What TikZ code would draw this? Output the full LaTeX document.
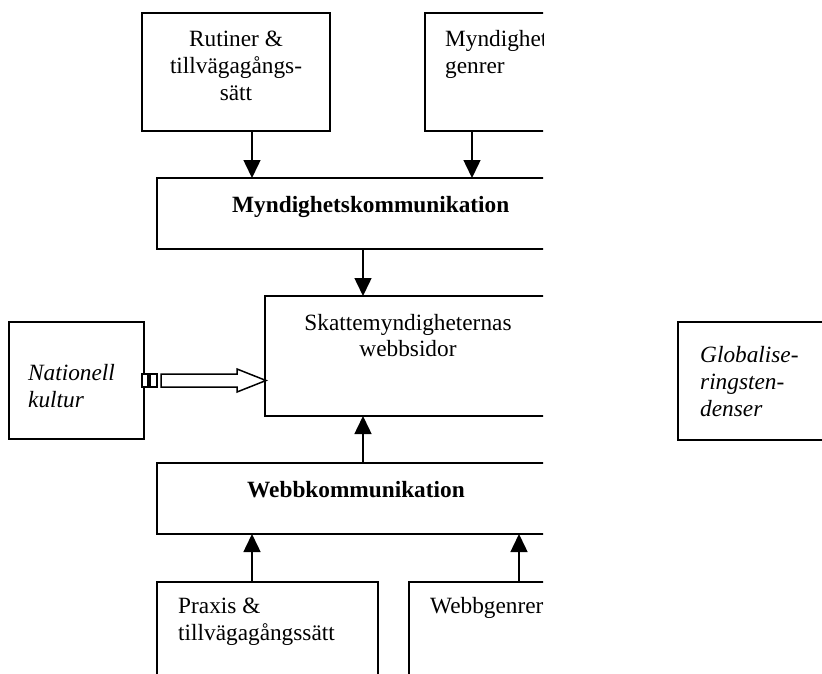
\documentclass[tikz,border=0pt]{standalone}
\usepackage{fontspec}
\setmainfont{Liberation Serif}
\usetikzlibrary{arrows.meta}
\tikzset{
  box/.style={draw, line width=1.5pt, rectangle, inner sep=0pt, outer sep=0pt, anchor=north west},
  txt/.style={inner sep=0pt, font=\fontsize{23.3}{27}\selectfont},
  txtc/.style={txt, anchor=base},
  txtl/.style={txt, anchor=base west},
  arr/.style={line width=1.5pt, -{Triangle[length=18pt,width=17pt]}},
  hollow/.style={draw, line width=1.5pt, fill=white}
}
\begin{document}
\begin{tikzpicture}[x=1pt,y=-1pt]
\clip (0,0) rectangle (822,673);
\useasboundingbox (0,0) rectangle (822,673);
\begin{scope}
\clip (0,0) rectangle (543,673);
% boxes
\node[box, minimum width=188pt, minimum height=118pt] (rut) at (142,13) {};
\node[box, minimum width=200pt, minimum height=118pt] (myn) at (425,13) {};
\node[box, minimum width=430pt, minimum height=71pt] (mk) at (157,178) {};
\node[box, minimum width=300pt, minimum height=120pt] (sk) at (265,296) {};
\node[box, minimum width=430pt, minimum height=71pt] (wk) at (157,463) {};
\node[box, minimum width=221pt, minimum height=120pt] (pr) at (157,582) {};
\node[box, minimum width=200pt, minimum height=120pt] (wg) at (409,582) {};
% texts
\node[txtc] (rut1) at (236,46) {Rutiner \&};
\node[txtc] (rut2) at (236,73) {tillvägagångs-};
\node[txtc] (rut3) at (236,100) {sätt};
\node[txtl] (myn1) at (445,46) {Myndighets-};
\node[txtl] (myn2) at (445,73) {genrer};
\node[txtl, font=\fontsize{23.3}{27}\selectfont\bfseries] (mkt) at (232,212) {Myndighetskommunikation};
\node[txtc] (sk1) at (408,330) {Skattemyndigheternas};
\node[txtc] (sk2) at (408,356) {webbsidor};
\node[txtl, font=\fontsize{23.3}{27}\selectfont\bfseries] (wkt) at (247,497) {Webbkommunikation};
\node[txtl] (pr1) at (178,613) {Praxis \&};
\node[txtl] (pr2) at (178,640) {tillvägagångssätt};
\node[txtl] (wg1) at (430,613) {Webbgenrer};
% connector columns
\coordinate (c1) at (252,0);
\coordinate (c2) at (472,0);
\coordinate (c3) at (363,0);
\coordinate (c4) at (519,0);
\draw[arr] (rut.south -| c1) -- (mk.north -| c1);
\draw[arr] (myn.south -| c2) -- (mk.north -| c2);
\draw[arr] (mk.south -| c3) -- (sk.north -| c3);
\draw[arr] (wk.north -| c3) -- (sk.south -| c3);
\draw[arr] (pr.north -| c1) -- (wk.south -| c1);
\draw[arr] (wg.north -| c4) -- (wk.south -| c4);
\end{scope}
% Nationell kultur
\node[box, minimum width=135pt, minimum height=117pt] (nk) at (9,322) {};
\node[txtl, font=\fontsize{23.3}{27}\selectfont\itshape] (nk1) at (28,380) {Nationell};
\node[txtl, font=\fontsize{23.3}{27}\selectfont\itshape] (nk2) at (28,407) {kultur};
% striped hollow arrow
\draw[hollow] (142,374) rectangle (148,387);
\draw[hollow] (150,374) rectangle (157,387);
\draw[hollow, line join=miter] (161,374) -- (237,374) -- (237,369) -- (266,380.5) -- (237,392) -- (237,387) -- (161,387) -- cycle;
% Globaliseringstendenser
\node[box, minimum width=160pt, minimum height=118pt] (gl) at (678,322) {};
\node[txtl, font=\fontsize{23.3}{27}\selectfont\itshape] (gl1) at (700,362) {Globalise-};
\node[txtl, font=\fontsize{23.3}{27}\selectfont\itshape] (gl2) at (700,389) {ringsten-};
\node[txtl, font=\fontsize{23.3}{27}\selectfont\itshape] (gl3) at (700,416) {denser};
\end{tikzpicture}
\end{document}
